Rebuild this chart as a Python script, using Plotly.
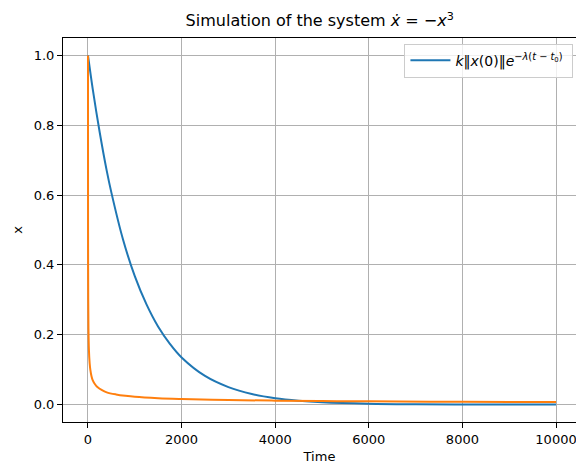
import plotly.graph_objects as go

# Blue: bound curve k||x(0)|| e^{-lambda(t-t0)}
t_bound = [0, 100, 250, 400, 500, 750, 1000, 1250, 1500, 1750, 2000, 2500, 3000, 3500, 4000, 4500, 5000, 6000, 7000, 8000, 9000, 10000]
x_bound = [1.0, 0.905, 0.78, 0.67, 0.607, 0.472, 0.368, 0.287, 0.223, 0.174, 0.135, 0.082, 0.050, 0.030, 0.018, 0.011, 0.0067, 0.0025, 0.0009, 0.0003, 0.0001, 0.00005]

# Orange: simulated solution of x' = -x^3
t_sim = [0, 1, 2, 5, 10, 20, 35, 50, 75, 100, 150, 200, 300, 400, 600, 800, 1000, 1500, 2000, 3000, 4000, 5000, 6000, 8000, 10000]
x_sim = [1.0, 0.577, 0.447, 0.302, 0.218, 0.156, 0.119, 0.100, 0.081, 0.070, 0.058, 0.050, 0.041, 0.035, 0.029, 0.025, 0.022, 0.018, 0.0158, 0.0129, 0.0112, 0.0100, 0.0091, 0.0079, 0.0071]

x_ticks = [0, 2000, 4000, 6000, 8000, 10000]
y_ticks = [0.0, 0.2, 0.4, 0.6, 0.8, 1.0]

fig = go.Figure()
fig.add_trace(go.Scatter(
    x=t_bound, y=x_bound, mode="lines", line=dict(color="#1f77b4", width=2, shape="spline"),
    name="<i>k</i>‖<i>x</i>(0)‖<i>e</i><sup>−<i>λ</i>(<i>t</i> − <i>t</i><sub>0</sub>)</sup> ",
    showlegend=True))
fig.add_trace(go.Scatter(
    x=t_sim, y=x_sim, mode="lines", line=dict(color="#ff7f0e", width=2, shape="spline"),
    name="sim", showlegend=False))

axis_common = dict(
    showline=True, linecolor="black", linewidth=1, mirror=True,
    ticks="outside", ticklen=5, tickcolor="black", tickwidth=1,
    showgrid=True, gridcolor="#b0b0b0", gridwidth=0.8, zeroline=False,
    tickfont=dict(size=13, color="black"), automargin=False, ticklabeloverflow="allow",
)
fig.update_layout(
    width=576, height=464,
    margin=dict(l=63, r=0, t=38, b=42),
    paper_bgcolor="white", plot_bgcolor="white",
    font=dict(family="DejaVu Sans", size=13, color="black"),
    title=dict(text="Simulation of the system <i>ẋ</i> = −<i>x</i><sup>3</sup>", x=0.555, xanchor="center",
               y=0.955, yanchor="middle", font=dict(size=16)),
    xaxis=dict(range=[-534, 10427], tickvals=x_ticks, ticktext=[str(v) for v in x_ticks],
               title=dict(text="Time", standoff=6, font=dict(size=13)), **axis_common),
    yaxis=dict(range=[-0.05, 1.05], tickvals=y_ticks, ticktext=[f"{v:.1f}" for v in y_ticks],
               title=dict(text="x", standoff=8, font=dict(size=13)), **axis_common),
    legend=dict(x=0.995, y=0.985, xanchor="right", yanchor="top", bgcolor="rgba(255,255,255,0.8)",
                bordercolor="#cccccc", borderwidth=1, font=dict(size=14), itemwidth=40),
)
fig.write_html("out.html", config={"displayModeBar": False},
               post_script="document.body.style.margin='0';document.body.style.overflow='hidden';")
